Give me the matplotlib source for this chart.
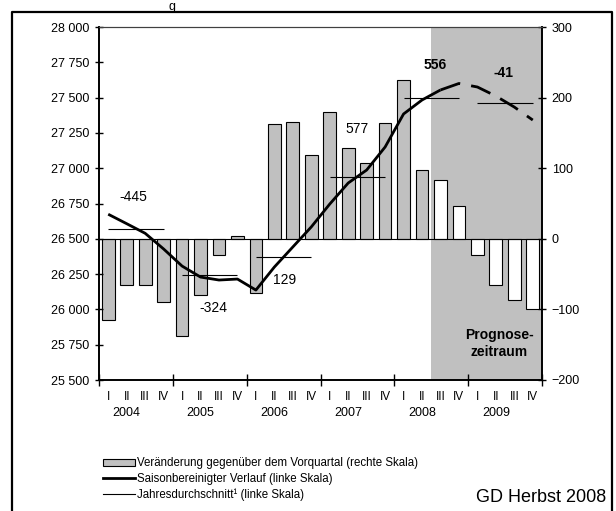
import matplotlib
matplotlib.use("Agg")
import matplotlib.pyplot as plt
from matplotlib.patches import Patch
from matplotlib.lines import Line2D
from matplotlib.ticker import FuncFormatter
import matplotlib.transforms as mtransforms

plt.rcParams['font.family'] = ['Liberation Sans', 'DejaVu Sans']

# data
jahre = ['2004', '2005', '2006', '2007', '2008', '2009']
quartale = ['I', 'II', 'III', 'IV'] * 6
# Veraenderung gegenueber Vorquartal (rechte Skala)
veraenderung = [-115, -65, -66, -90, -137, -79, -23, 4, -77, 162, 166, 118,
                180, 128, 107, 164, 225, 97, 83, 47, -23, -65, -86, -99]
# saisonbereinigter Verlauf (linke Skala)
verlauf = [26674, 26607, 26539, 26428, 26307, 26229, 26208, 26215,
           26137, 26300, 26442, 26584, 26746, 26895, 26987, 27150,
           27384, 27483, 27554, 27600, 27575, 27511, 27433, 27341]
# Jahresdurchschnitt (linke Skala)
durchschnitt = [26567, 26244, 26369, 26940, 27499, 27464]
differenz = ['-445', '-324', '129', '577', '556', '-41']
prognose_ab = 18

x = list(range(len(veraenderung)))
grau = '#c0c0c0'
schmal = ['Liberation Sans Narrow', 'Liberation Sans']

fig = plt.figure(figsize=(6.16, 5.11), dpi=100)
rect = [99 / 616, 1 - 380 / 511, 443 / 616, 353 / 511]

# Balken (rechte Skala)
axb = fig.add_axes(rect)
axb.axvspan(prognose_ab - 0.5, len(x) - 0.5, color=grau, lw=0, zorder=0)
farben = [grau if i < prognose_ab else 'white' for i in x]
axb.bar(x, veraenderung, width=0.69, color=farben, edgecolor='black', lw=0.8, zorder=2)
axb.axhline(0, color='black', lw=0.8, zorder=3)
axb.set_ylim(-200, 300)
axb.set_yticks(range(-200, 301, 100))
axb.yaxis.tick_right()
axb.tick_params(axis='y', direction='inout', length=6, width=1, labelsize=9, pad=4)

# Linien (linke Skala)
axl = fig.add_axes(rect, sharex=axb)
axl.patch.set_visible(False)
axl.plot(x[:prognose_ab + 1], verlauf[:prognose_ab + 1], color='black', lw=2, zorder=4,
         solid_capstyle='butt')
axl.plot(x[prognose_ab:], verlauf[prognose_ab:], color='black', lw=2, zorder=4,
         dashes=(7.5, 4))
for k, d in enumerate(durchschnitt):
    axl.hlines(d, 4 * k, 4 * k + 3, color='black', lw=0.8, zorder=3)
axl.set_ylim(25500, 28000)
axl.set_yticks(range(25500, 28001, 250))
axl.yaxis.set_major_formatter(FuncFormatter(lambda v, p: f'{int(v):,}'.replace(',', ' ')))
axl.tick_params(axis='y', direction='inout', length=6, width=1, labelsize=9, pad=4)

# Beschriftungen der Jahresveraenderung
pos = [(1.34, 26796), (5.68, 26010), (9.58, 26208), (13.48, 27278), (17.7, 27731), (21.39, 27674)]
for k, (t, (px, py)) in enumerate(zip(differenz, pos)):
    axl.text(px, py, t, ha='center', va='center', fontsize=10,
             fontweight='bold' if k >= 4 else 'normal')

axl.text(21.2, 25760, 'Prognose-\nzeitraum', ha='center', va='center',
         fontsize=10, fontweight='bold', linespacing=1.3)

# x-Achse
axl.set_xlim(-0.5, len(x) - 0.5)
axl.set_xticks([i - 0.5 for i in range(0, len(x) + 1, 4)])
axl.set_xticklabels([])
axl.tick_params(axis='x', direction='inout', length=8, width=1)
axb.tick_params(axis='x', length=0, labelbottom=False)
trans = mtransforms.blended_transform_factory(axl.transData, axl.transAxes)
for i, q in zip(x, quartale):
    axl.text(i, -17 / 353, q, transform=trans, ha='center', va='center', fontsize=8.5,
             family=schmal)
for k, j in enumerate(jahre):
    axl.text(4 * k + 1, -33 / 353, j, transform=trans, ha='center', va='center', fontsize=9)

for ax in (axb, axl):
    for s in ax.spines.values():
        s.set_linewidth(1.2)
    ax.spines['top'].set_linewidth(0.8)
    ax.spines['top'].set_color('#404040')

# Legende
handles = [Patch(facecolor=grau, edgecolor='black', lw=0.8),
           Line2D([], [], color='black', lw=2),
           Line2D([], [], color='black', lw=0.8)]
labels = ['Veränderung gegenüber dem Vorquartal (rechte Skala)',
          'Saisonbereinigter Verlauf (linke Skala)',
          'Jahresdurchschnitt¹ (linke Skala)']
fig.legend(handles, labels, loc='upper left', bbox_to_anchor=(93 / 616, 1 - 447 / 511),
           frameon=False, handlelength=2.7, handletextpad=0.25,
           labelspacing=0.3, handleheight=0.5,
           prop={'family': schmal, 'size': 8.3})

fig.text(606 / 616, 1 - 498 / 511, 'GD Herbst 2008', ha='right', va='center', fontsize=13)
fig.text(172 / 616, 1 - 1 / 511, 'g', ha='center', va='top', fontsize=9)

# Rahmen
fig.add_artist(Line2D([12 / 616, 12 / 616, 612 / 616, 612 / 616],
                      [0, 1 - 12 / 511, 1 - 12 / 511, 0], color='black', lw=1.6,
                      transform=fig.transFigure))

fig.savefig('out.png', dpi=100)
